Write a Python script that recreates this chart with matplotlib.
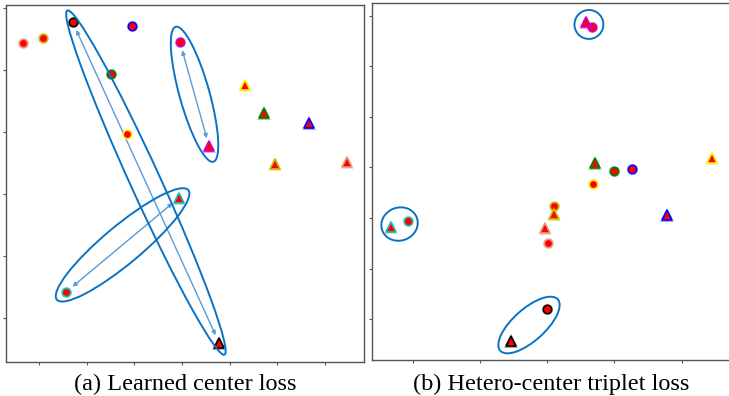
import numpy as np
import matplotlib
matplotlib.use('Agg')
import matplotlib.pyplot as plt
from matplotlib.patches import Ellipse
from matplotlib.transforms import IdentityTransform

# one identity per entry, circle = visible image centre, triangle = infrared centre
ids = ['salmon', 'olive', 'black', 'blue', 'green', 'yellow', 'magenta', 'teal']
edge_colors = ['#e39a7c', '#c4bb00', '#000000', '#0000ff', '#008000', '#ffee00', '#cc00cc', '#22b8b0']

# (a) learned center loss
a_vis_x = [-33.4, -29.2, -22.9, -10.5, -14.9, -11.5, -0.4, -24.3]
a_vis_y = [24.4, 25.2, 27.7, 27.1, 19.4, 9.7, 24.5, -15.8]
a_ir_x = [34.6, 19.5, 7.8, 26.6, 17.2, 13.2, 5.7, -0.6]
a_ir_y = [5.2, 4.8, -24.0, 11.5, 13.1, 17.6, 7.7, -0.6]

# (b) hetero-center triplet loss
b_vis_x = [0.2, 2.0, -0.1, 25.2, 19.8, 13.6, 13.3, -41.5]
b_vis_y = [-29.9, -15.2, -56.0, -0.6, -1.4, -6.5, 55.6, -21.2]
b_ir_x = [-0.7, 2.0, -10.8, 35.6, 14.2, 49.0, 11.5, -46.5]
b_ir_y = [-24.0, -18.4, -68.7, -18.8, 1.8, 3.8, 57.6, -23.6]

a_marked = ['black', 'magenta', 'teal']
b_marked = ['magenta', 'teal', 'black']

ring_col = '#0a72c4'
arrow_col = '#5b9bd5'


def draw_centres(ax, vx, vy, tx, ty):
    for i in range(len(ids)):
        # soft halo first, then the red centre on top
        ax.plot(vx[i], vy[i], 'o', color=edge_colors[i], alpha=0.35,
                markersize=8, markeredgewidth=0, zorder=3)
        ax.plot(vx[i], vy[i], 'o', color='red', markeredgecolor=edge_colors[i],
                markersize=6, markeredgewidth=1.1, zorder=3)
        ax.plot(tx[i], ty[i], '^', color=edge_colors[i], alpha=0.35,
                markersize=10, markeredgewidth=0, zorder=3)
        ax.plot(tx[i], ty[i], '^', color='red', markeredgecolor=edge_colors[i],
                markersize=7.5, markeredgewidth=1.2, zorder=3)


def ring(ax, p1, p2, pad, minor):
    # ellipse drawn in pixel space around two points
    a = ax.transData.transform(p1)
    b = ax.transData.transform(p2)
    d = b - a
    length = np.hypot(d[0], d[1]) + 2 * pad
    ang = np.degrees(np.arctan2(d[1], d[0]))
    e = Ellipse((a + b) / 2, length, minor, angle=ang, fill=False,
                edgecolor=ring_col, linewidth=1.4, transform=IdentityTransform(), zorder=4)
    ax.add_patch(e)


def style_axes(ax):
    ax.set_xticklabels([])
    ax.set_yticklabels([])
    ax.tick_params(length=2.5, width=0.8, color='#555555', direction='out')
    for s in ax.spines.values():
        s.set_color('#555555')
        s.set_linewidth(1.0)


fig = plt.figure(figsize=(7.29, 3.96), dpi=100)
ax1 = fig.add_axes([6 / 729, 34 / 396, 358 / 729, 357 / 396])
ax2 = fig.add_axes([372 / 729, 36 / 396, 363 / 729, 356.5 / 396])

ax1.set_xlim(-36.9, 38.2)
ax1.set_ylim(-27.1, 30.5)
ax1.set_xticks([-30, -20, -10, 0, 10, 20, 30])
ax1.set_yticks([-20, -10, 0, 10, 20, 30])
ax2.set_xlim(-52.2, 55.9)
ax2.set_ylim(-76.2, 64.9)
ax2.set_xticks([-40, -20, 0, 20, 40])
ax2.set_yticks([-60, -40, -20, 0, 20, 40, 60])
style_axes(ax1)
style_axes(ax2)

draw_centres(ax1, a_vis_x, a_vis_y, a_ir_x, a_ir_y)
draw_centres(ax2, b_vis_x, b_vis_y, b_ir_x, b_ir_y)

# rings + arrows on (a)
a_pad = {'black': (13, 30), 'magenta': (16, 30), 'teal': (12, 38)}
for name in a_marked:
    i = ids.index(name)
    p1 = (a_vis_x[i], a_vis_y[i])
    p2 = (a_ir_x[i], a_ir_y[i])
    ring(ax1, p1, p2, a_pad[name][0], a_pad[name][1])
    ax1.annotate('', xy=p2, xytext=p1,
                 arrowprops=dict(arrowstyle='<|-|>', color=arrow_col, lw=1.0,
                                 shrinkA=6, shrinkB=6, mutation_scale=6), zorder=2)

# rings on (b)
b_pad = {'magenta': (10.5, 29), 'teal': (9.5, 33), 'black': (14.5, 32)}
for name in b_marked:
    i = ids.index(name)
    ring(ax2, (b_vis_x[i], b_vis_y[i]), (b_ir_x[i], b_ir_y[i]), b_pad[name][0], b_pad[name][1])

fig.text(185.5 / 729, 6 / 396, '(a) Learned center loss', ha='center', va='baseline',
         fontsize=17.5, family=['Liberation Serif', 'DejaVu Serif'])
fig.text(551.5 / 729, 6 / 396, '(b) Hetero-center triplet loss', ha='center', va='baseline',
         fontsize=17.5, family=['Liberation Serif', 'DejaVu Serif'])

fig.savefig('out.png', dpi=100)
